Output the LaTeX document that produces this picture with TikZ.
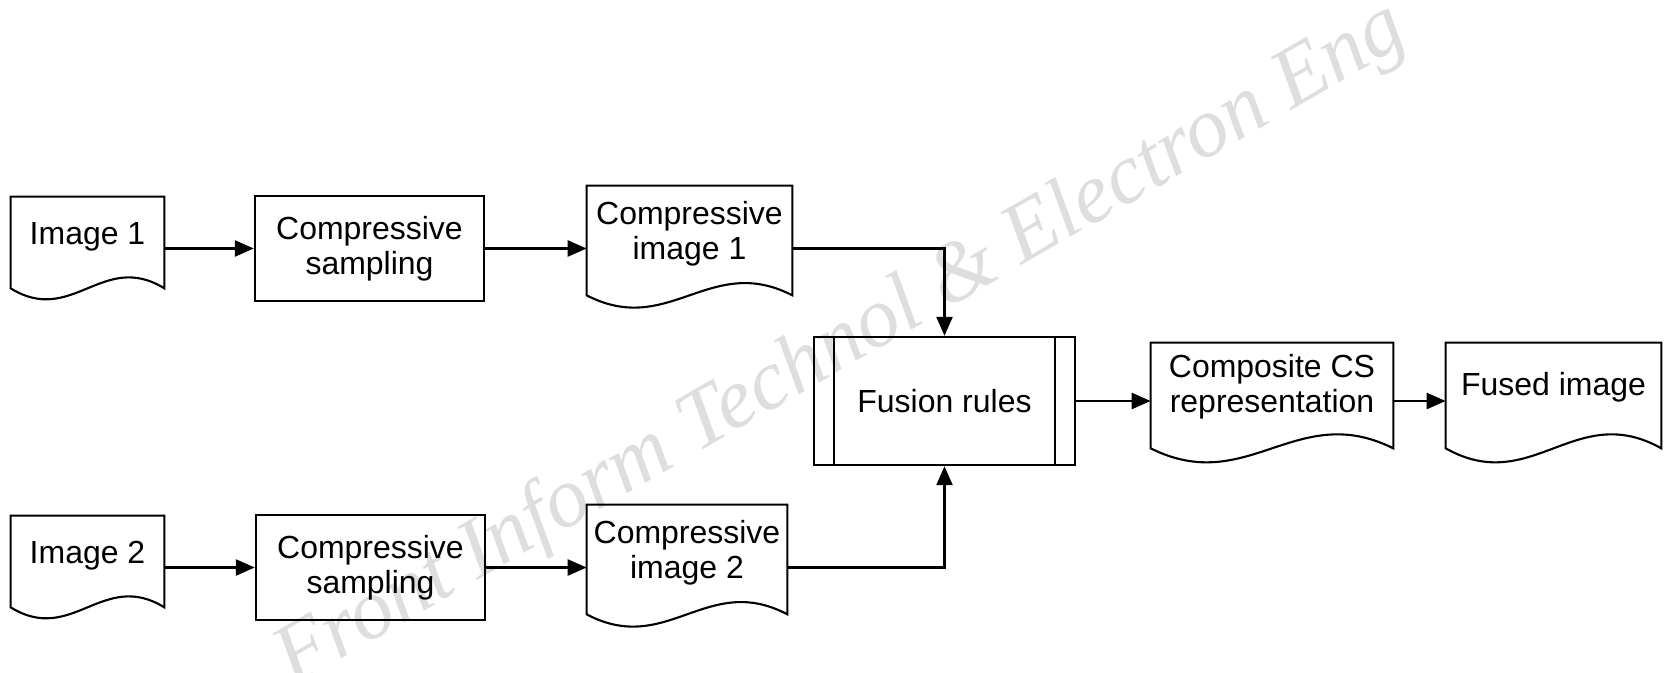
\documentclass[tikz,border=0pt]{standalone}
\usepackage{fontspec}
\setmainfont{Liberation Sans}
\newfontfamily\wmfont{Liberation Serif}
\usetikzlibrary{arrows.meta, calc}

\newcommand{\docframe}[3]{%
  \draw[docline] (#1.north west) -- (#1.north east) -- ([yshift=-#2]#1.south east)
    .. controls ($(#1.south east)!0.4!(#1.south west)+(0,#3-#2)$)
       and ($(#1.south east)!0.6!(#1.south west)+(0,-#3-#2)$)
    .. ([yshift=-#2]#1.south west) -- cycle;}

\begin{document}
\begin{tikzpicture}[
  x=0.02cm, y=-0.02cm,
  txt/.style={font=\fontsize{18.2}{19.9}\selectfont, align=center, inner sep=0pt},
  procbox/.style={txt, rectangle, draw=black, line width=1.4pt,
             minimum width=4.58cm, minimum height=2.1cm},
  fusebox/.style={procbox, minimum width=5.22cm, minimum height=2.56cm},
  docbox/.style={txt, rectangle, draw=none},
  docline/.style={draw=black, line width=1.2pt},
  watermark/.style={font=\wmfont\itshape\fontsize{48.5}{48.5}\selectfont,
             text=black!13, rotate=30, anchor=base},
  arrow/.style={-{Triangle[length=0.38cm, width=0.32cm]}, line width=1.4pt}
]
\useasboundingbox (0,0) rectangle (1664,673);

\node[watermark] (wm) at (852,364) {Front Inform Technol \& Electron Eng};

\node[docbox, minimum width=3.06cm, minimum height=1.6cm] (img1) at (87.5,237) {Image 1};
\node[procbox] (cs1) at (369.5,248.5) {Compressive\\sampling};
\node[docbox, minimum width=4.1cm, minimum height=1.92cm] (ci1) at (689.5,234) {Compressive\\image 1};

\node[docbox, minimum width=3.06cm, minimum height=1.6cm] (img2) at (87.5,556) {Image 2};
\node[procbox] (cs2) at (370.5,567.5) {Compressive\\sampling};
\node[docbox, minimum width=4.0cm, minimum height=1.92cm] (ci2) at (687,553) {Compressive\\image 2};

\node[fusebox] (fusion) at (944.5,401) {Fusion rules};
\node[docbox, minimum width=4.84cm, minimum height=1.76cm] (comp) at (1272,387) {Composite CS\\representation};
\node[docbox, minimum width=4.3cm, minimum height=1.76cm] (fused) at (1553.5,387) {Fused image};

\docframe{img1}{0.22cm}{0.76cm}
\docframe{img2}{0.22cm}{0.76cm}
\docframe{ci1}{0.26cm}{0.85cm}
\docframe{ci2}{0.26cm}{0.85cm}
\docframe{comp}{0.34cm}{0.97cm}
\docframe{fused}{0.34cm}{0.97cm}

\draw[line width=1.4pt] ([xshift=0.42cm]fusion.north west) -- ([xshift=0.42cm]fusion.south west);
\draw[line width=1.4pt] ([xshift=-0.42cm]fusion.north east) -- ([xshift=-0.42cm]fusion.south east);

\draw[arrow] (img1.east |- cs1) -- (cs1.west);
\draw[arrow] (cs1.east) -- (cs1 -| ci1.west);
\draw[arrow] (ci1.east |- cs1) -| (fusion.north);
\draw[arrow] (img2.east |- cs2) -- (cs2.west);
\draw[arrow] (cs2.east) -- (cs2 -| ci2.west);
\draw[arrow] (ci2.east |- cs2) -| (fusion.south);
\draw[arrow] (fusion.east) -- (fusion -| comp.west);
\draw[arrow] (comp.east |- fusion) -- (fusion -| fused.west);

\end{tikzpicture}
\end{document}
